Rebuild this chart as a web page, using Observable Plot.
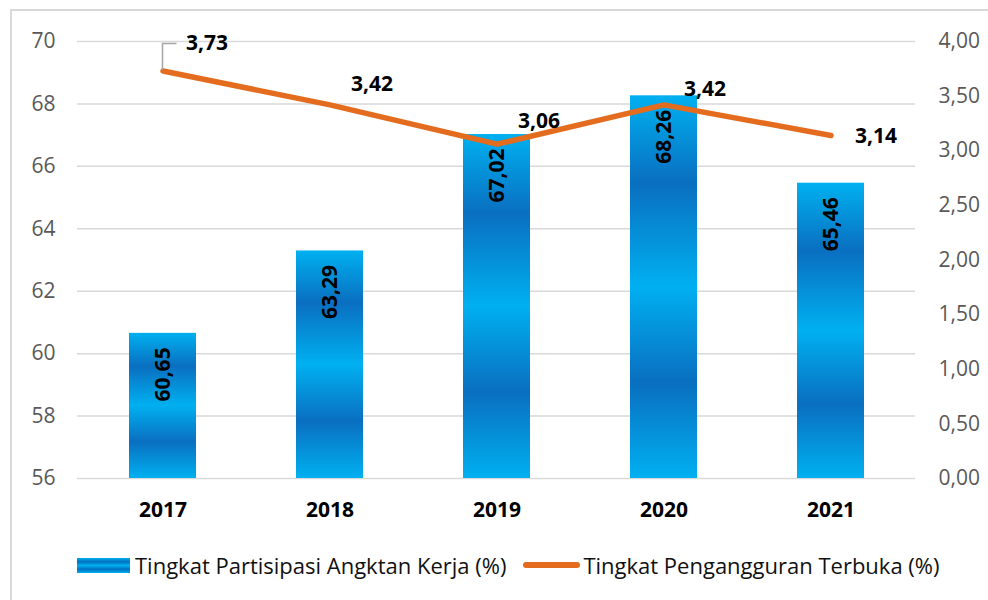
<!DOCTYPE html>
<html>
<head>
<meta charset="utf-8">
<script src="https://cdn.jsdelivr.net/npm/d3@7"></script>
<script src="https://cdn.jsdelivr.net/npm/@observablehq/plot@0.6"></script>
<style>
  html, body { margin: 0; padding: 0; background: #fff; overflow: hidden; width: 988px; height: 600px; }
  body { font-family: "Open Sans", sans-serif; position: relative; }
  #frame { position: absolute; left: 10px; top: 9px; width: 1000px; height: 640px; border: 2px solid #d9d9d9; box-sizing: border-box; }
  #chart { position: absolute; left: 0; top: 0; }
  #legend { position: absolute; left: 77px; top: 550px; display: flex; align-items: center; font-size: 22px; color: #111; white-space: nowrap; line-height: 30px; }
  .sw1 { width: 53px; height: 15px; margin-right: 5px;
         background: linear-gradient(to bottom, #00b0f0 0%, #0070c0 25%, #00b0f0 50%, #0070c0 75%, #00b0f0 100%); }
  .sw2 { width: 57px; height: 6px; border-radius: 3px; background: #e46c1e; margin-left: 17px; margin-right: 3px; }
</style>
</head>
<body>
<div id="frame"></div>
<div id="chart"></div>
<div id="legend"></div>
<script>
// ---- data ----
const years = ["2017", "2018", "2019", "2020", "2021"];
const tpak = [60.65, 63.29, 67.02, 68.26, 65.46];          // bars, left axis (%)
const tpt = [3.73, 3.42, 3.06, 3.42, 3.14];                // line, right axis (%)
const leftTicks = [56, 58, 60, 62, 64, 66, 68, 70];
const rightTicks = [0, 0.5, 1, 1.5, 2, 2.5, 3, 3.5, 4];
const seriesNames = ["Tingkat Partisipasi Angktan Kerja (%)", "Tingkat Pengangguran Terbuka (%)"];

// ---- layout (label offsets in px, not data) ----
const lineLabelOffsets = [[44, -27.5], [42, -21], [42, -23], [41, -16], [45, 1]];

const L0 = 56, L1 = 70, R0 = 0, R1 = 4;
const toLeft = v => L0 + (v - R0) / (R1 - R0) * (L1 - L0);
const fromLeft = v => R0 + (v - L0) / (L1 - L0) * (R1 - R0);
const fmt = (v, d) => v.toFixed(d).replace(".", ",");

const rows = years.map((year, i) => ({ year, tpak: tpak[i], tpt: tpt[i], tptL: toLeft(tpt[i]) }));

const orange = "#e46c1e";
const font = "'Open Sans', sans-serif";

const lineLabels = rows.map((r, i) => Plot.text([r], {
  x: "year", y: "tptL", text: d => fmt(d.tpt, 2),
  dx: lineLabelOffsets[i][0], dy: lineLabelOffsets[i][1],
  fontSize: 21, fontWeight: "bold", fill: "#000", textAnchor: "middle", lineAnchor: "middle"
}));

const chart = Plot.plot({
  width: 988,
  height: 540,
  marginLeft: 77,
  marginRight: 73,
  marginTop: 41,
  marginBottom: 62,
  style: { fontFamily: font, background: "transparent", overflow: "visible" },
  x: { domain: years, paddingInner: 0.6, paddingOuter: 0.3 },
  y: { domain: [L0, L1] },
  marks: [
    Plot.gridY(leftTicks, { stroke: "#d9d9d9", strokeOpacity: 1, strokeWidth: 1.5 }),
    Plot.axisY({ ticks: leftTicks, tickSize: 0, tickPadding: 22, fontSize: 21, fill: "#595959", label: null, tickFormat: d => String(d) }),
    Plot.axisY({ anchor: "right", ticks: rightTicks.map(toLeft), tickSize: 0, tickPadding: 23, fontSize: 21, fill: "#595959", label: null,
                 tickFormat: d => fmt(fromLeft(d), 2) }),
    Plot.axisX({ tickSize: 0, tickPadding: 24, fontSize: 21, fontWeight: "bold", fill: "#000", label: null }),
    Plot.barY(rows, { x: "year", y1: L0, y2: "tpak", fill: "url(#barGrad)" }),
    Plot.line(rows, { x: "year", y: "tptL", stroke: orange, strokeWidth: 5.5, strokeLinejoin: "miter", strokeLinecap: "round" }),
    Plot.text(rows, { x: "year", y: "tpak", text: d => fmt(d.tpak, 2), rotate: -90, textAnchor: "end", dy: 14,
                      fontSize: 21, fontWeight: "bold", fill: "#000" }),
    ...lineLabels
  ]
});

document.getElementById("chart").appendChild(chart);

// gradient for bars
const svg = d3.select(chart);
const grad = svg.insert("defs", ":first-child").append("linearGradient")
  .attr("id", "barGrad").attr("x1", 0).attr("y1", 0).attr("x2", 0).attr("y2", 1);
[[0, "#00b0f0"], [0.23, "#0a6fc0"], [0.5, "#00b0f0"], [0.75, "#0a6fc0"], [1, "#00b0f0"]]
  .forEach(([o, c]) => grad.append("stop").attr("offset", o).attr("stop-color", c));

// leader line for the first line label
const xs = chart.scale("x"), ys = chart.scale("y");
const px = xs.apply(years[0]) + xs.bandwidth / 2;
const py = ys.apply(toLeft(tpt[0]));
svg.append("path")
  .attr("d", `M${px},${py - 1}V${py - 27}H${px + 14}`)
  .attr("fill", "none").attr("stroke", "#a5a5a5").attr("stroke-width", 1.5);

// legend
const lg = document.getElementById("legend");
lg.innerHTML = `<span class="sw1"></span><span>${seriesNames[0]}</span><span class="sw2"></span><span>${seriesNames[1]}</span>`;
</script>
</body>
</html>
